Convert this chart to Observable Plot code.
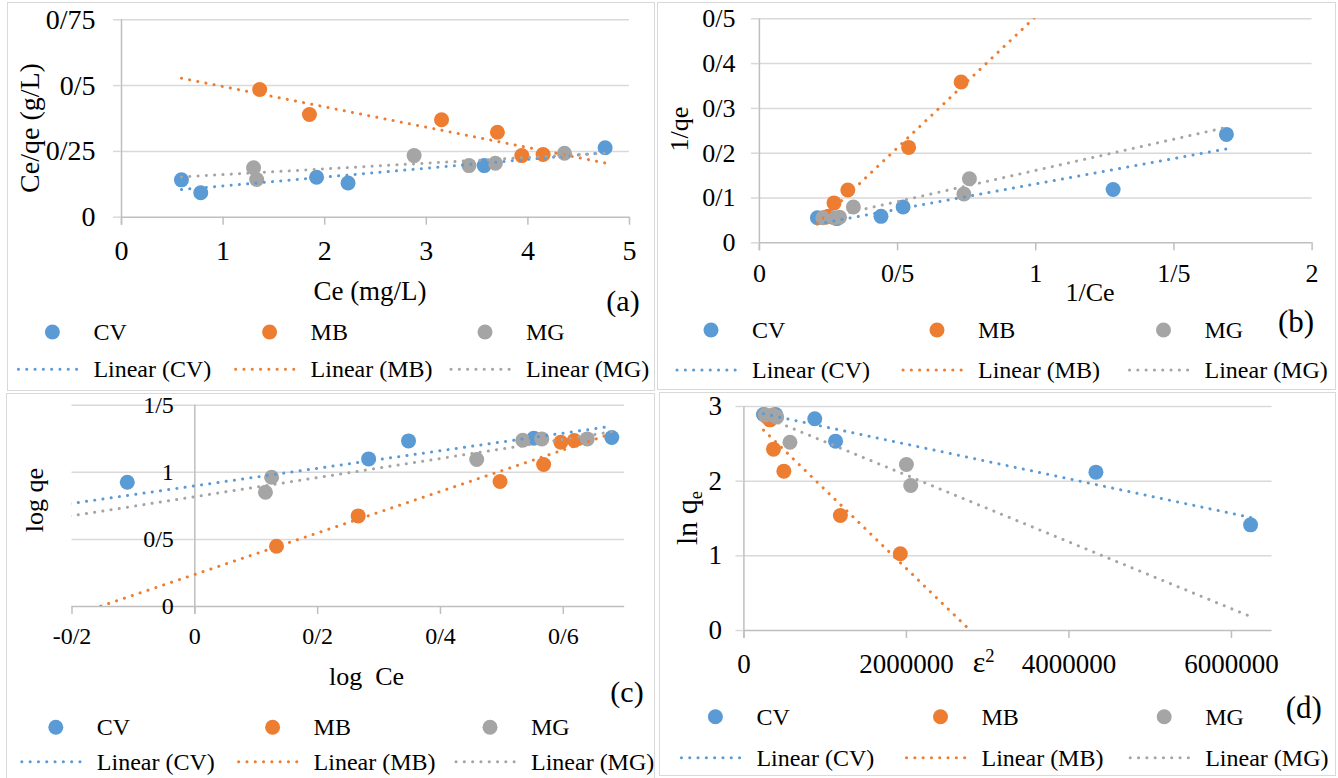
<!DOCTYPE html>
<html><head><meta charset="utf-8">
<script src="https://cdn.jsdelivr.net/npm/d3@7"></script>
<script src="https://cdn.jsdelivr.net/npm/@observablehq/plot@0.6"></script>
<style>
html,body{margin:0;padding:0;background:#fff;}
#root{position:relative;width:1338px;height:778px;overflow:hidden;font-family:'Liberation Serif','Times New Roman',serif;color:#000;}
.panel{position:absolute;box-sizing:border-box;border:1.5px solid #d9d9d9;pointer-events:none;}
.abs{position:absolute;white-space:pre;line-height:1;}
.abs sup{font-size:0.62em;vertical-align:0.55em;line-height:0;}
.abs sub{font-size:0.62em;vertical-align:-0.25em;line-height:0;}
svg{overflow:visible;}
</style></head><body><div id="root"></div>
<script>
// ---------- series ----------
const seriesNames = ["CV", "MB", "MG"];
const seriesColors = ["#5B9BD5", "#ED7D31", "#A5A5A5"];

// (a) Ce vs Ce/qe
const a_CV_x = [0.59, 0.78, 1.92, 2.23, 3.57, 4.76];
const a_CV_y = [0.142, 0.093, 0.152, 0.130, 0.196, 0.264];
const a_MB_x = [1.36, 1.85, 3.15, 3.70, 3.94, 4.15];
const a_MB_y = [0.485, 0.390, 0.370, 0.323, 0.234, 0.238];
const a_MG_x = [1.30, 1.33, 2.88, 3.42, 3.68, 4.36];
const a_MG_y = [0.188, 0.143, 0.234, 0.196, 0.205, 0.243];

// (b) 1/Ce vs 1/qe
const b_CV_x = [1.69, 1.28, 0.52, 0.44, 0.28, 0.21];
const b_CV_y = [0.242, 0.119, 0.080, 0.059, 0.054, 0.056];
const b_MB_x = [0.73, 0.54, 0.32, 0.27, 0.25, 0.24];
const b_MB_y = [0.359, 0.213, 0.118, 0.089, 0.059, 0.057];
const b_MG_x = [0.76, 0.74, 0.34, 0.29, 0.27, 0.23];
const b_MG_y = [0.143, 0.109, 0.080, 0.057, 0.056, 0.056];

// (c) log Ce vs log qe
const c_CV_x = [-0.23, -0.11, 0.283, 0.348, 0.552, 0.679];
const c_CV_y = [0.618, 0.926, 1.100, 1.234, 1.254, 1.259];
const c_MB_x = [0.133, 0.266, 0.497, 0.568, 0.596, 0.618];
const c_MB_y = [0.449, 0.675, 0.931, 1.058, 1.224, 1.237];
const c_MG_x = [0.115, 0.125, 0.459, 0.534, 0.565, 0.639];
const c_MG_y = [0.851, 0.963, 1.095, 1.239, 1.249, 1.249];

// (d) epsilon^2 vs ln qe
const d_CV_x = [241000, 390000, 872000, 1128000, 4332000, 6235000];
const d_CV_y = [2.893, 2.893, 2.835, 2.536, 2.121, 1.415];
const d_MB_x = [286000, 321000, 364000, 492000, 1187000, 1925000];
const d_MB_y = [2.859, 2.821, 2.429, 2.134, 1.540, 1.027];
const d_MG_x = [262000, 355000, 404000, 567000, 2000000, 2053000];
const d_MG_y = [2.888, 2.887, 2.859, 2.522, 2.223, 1.942];

// ---------- tick values ----------
const a_xTicks = [0, 1, 2, 3, 4, 5];
const a_yTicks = [0, 0.25, 0.5, 0.75];
const b_xTicks = [0, 0.5, 1, 1.5, 2];
const b_yTicks = [0, 0.1, 0.2, 0.3, 0.4, 0.5];
const c_xTicks = [-0.2, 0, 0.2, 0.4, 0.6];
const c_yTicks = [0, 0.5, 1, 1.5];
const d_xTicks = [0, 2000000, 4000000, 6000000];
const d_yTicks = [0, 1, 2, 3];

const FONT = "'Liberation Serif','Times New Roman',serif";
const fmt = d => String(d).replace(".", "/");
const root = document.getElementById("root");

function rowsOf(xs, ys, name) { return xs.map((x, i) => ({x, y: ys[i], s: name})); }
function fit(rows) {
  const mx = d3.mean(rows, d => d.x), my = d3.mean(rows, d => d.y);
  const sxy = d3.sum(rows, d => (d.x - mx) * (d.y - my));
  const sxx = d3.sum(rows, d => (d.x - mx) ** 2);
  const b = sxy / sxx, a = my - b * mx;
  return x => a + b * x;
}

function addText(html, x, y, size, opts = {}) {
  const el = document.createElement("div");
  el.className = "abs";
  el.innerHTML = html;
  el.style.fontSize = size + "px";
  el.style.left = x + "px";
  el.style.top = y + "px";
  if (opts.rotate) el.style.transform = "translate(-50%,-50%) rotate(-90deg)";
  else if (opts.left) el.style.transform = "translate(0,-50%)";
  else el.style.transform = "translate(-50%,-50%)";
  root.appendChild(el);
}

const overlay = d3.select(root).append("svg")
  .attr("width", 1338).attr("height", 778)
  .style("position", "absolute").style("left", "0px").style("top", "0px")
  .style("pointer-events", "none").style("z-index", 2);

function legend(textXs, y1, y2) {
  seriesNames.forEach((name, i) => {
    const tx = textXs[i];
    overlay.append("circle").attr("cx", tx - 41).attr("cy", y1).attr("r", 7.5).attr("fill", seriesColors[i]);
    overlay.append("line").attr("x1", tx - 75).attr("x2", tx - 11).attr("y1", y2).attr("y2", y2)
      .attr("stroke", seriesColors[i]).attr("stroke-width", 3)
      .attr("stroke-dasharray", "0.1 8.2").attr("stroke-linecap", "round");
    addText(name, tx, y1, 24, {left: true});
    addText(`Linear (${name})`, tx, y2, 24, {left: true});
  });
}

function panel(cfg) {
  const all = [];
  cfg.series.forEach(([xs, ys], i) => all.push(...rowsOf(xs, ys, seriesNames[i])));
  const ext = d3.extent(all, d => d.x);
  const trends = [];
  seriesNames.forEach(name => {
    const f = fit(all.filter(d => d.s === name));
    trends.push({x: ext[0], y: f(ext[0]), s: name}, {x: ext[1], y: f(ext[1]), s: name});
  });
  const {box, frame} = cfg;
  const marks = [
    Plot.ruleY(cfg.yTicks.filter(t => t !== 0), {stroke: "#d9d9d9", strokeWidth: 1.5}),
    Plot.ruleY([0], {stroke: "#bfbfbf", strokeWidth: 1.5}),
    Plot.ruleX([0], {stroke: "#bfbfbf", strokeWidth: 1.5, insetBottom: -8}),
    Plot.axisX({ticks: cfg.xTicks, tickFormat: fmt, tickSize: 8, tickPadding: cfg.padX,
      fontSize: cfg.fs, stroke: "#bfbfbf", strokeWidth: 1.5, fill: "#000", label: null})
  ];
  if (cfg.yAtZero) {
    marks.push(Plot.text(cfg.yTicks, {x: 0, y: d => d, text: fmt, textAnchor: "end",
      dx: cfg.yDx, fontSize: cfg.fs, fill: "#000"}));
  } else {
    marks.push(Plot.axisY({ticks: cfg.yTicks, tickFormat: fmt, tickSize: 8, tickPadding: cfg.padY,
      fontSize: cfg.fs, stroke: "#d9d9d9", strokeWidth: 1.5, fill: "#000", label: null}));
  }
  marks.push(
    Plot.dot(all, {x: "x", y: "y", fill: "s", r: 7.5, clip: true}),
    Plot.line(trends, {x: "x", y: "y", stroke: "s", z: "s", strokeWidth: 3,
      strokeDasharray: "0.1 8.2", strokeLinecap: "round", clip: true})
  );
  const svg = Plot.plot({
    width: box.w, height: box.h,
    marginLeft: frame.L - box.l, marginRight: box.l + box.w - frame.R,
    marginTop: frame.T - box.t, marginBottom: box.t + box.h - frame.B,
    x: {domain: cfg.xDomain},
    y: cfg.yAtZero ? {domain: cfg.yDomain, axis: null} : {domain: cfg.yDomain},
    color: {domain: seriesNames, range: seriesColors},
    style: {fontFamily: FONT, fontSize: cfg.fs + "px", background: "transparent", color: "#000"},
    marks
  });
  svg.style.position = "absolute";
  svg.style.left = box.l + "px";
  svg.style.top = box.t + "px";
  root.appendChild(svg);
  const border = document.createElement("div");
  border.className = "panel";
  border.style.left = box.l + "px"; border.style.top = box.t + "px";
  border.style.width = box.w + "px"; border.style.height = box.h + "px";
  root.appendChild(border);
}

panel({box: {l: 7, t: 2, w: 648, h: 389}, frame: {L: 121, R: 629, T: 19.3, B: 216.7},
  xDomain: [0, 5], yDomain: [0, 0.75], xTicks: a_xTicks, yTicks: a_yTicks, fs: 28, padX: 15, padY: 18,
  series: [[a_CV_x, a_CV_y], [a_MB_x, a_MB_y], [a_MG_x, a_MG_y]]});
panel({box: {l: 657, t: 2, w: 679, h: 388}, frame: {L: 758.9, R: 1311.6, T: 18.3, B: 242.3},
  xDomain: [0, 2], yDomain: [0, 0.5], xTicks: b_xTicks, yTicks: b_yTicks, fs: 26, padX: 13, padY: 16,
  series: [[b_CV_x, b_CV_y], [b_MB_x, b_MB_y], [b_MG_x, b_MG_y]]});
panel({box: {l: 6, t: 393, w: 649, h: 386}, frame: {L: 71.5, R: 624.2, T: 404.7, B: 606},
  xDomain: [-0.2, 0.7], yDomain: [0, 1.5], xTicks: c_xTicks, yTicks: c_yTicks, fs: 24, padX: 12,
  yAtZero: true, yDx: -21,
  series: [[c_CV_x, c_CV_y], [c_MB_x, c_MB_y], [c_MG_x, c_MG_y]]});
panel({box: {l: 659, t: 392, w: 677, h: 384}, frame: {L: 743.4, R: 1271.6, T: 406, B: 630},
  xDomain: [0, 6500000], yDomain: [0, 3], xTicks: d_xTicks, yTicks: d_yTicks, fs: 27, padX: 15, padY: 14,
  series: [[d_CV_x, d_CV_y], [d_MB_x, d_MB_y], [d_MG_x, d_MG_y]]});

// axis titles & panel letters
addText("Ce (mg/L)", 370, 291, 27);
addText("Ce/qe (g/L)", 29.5, 128, 28, {rotate: true});
addText("(a)", 623, 300.5, 30);
addText("1/Ce", 1090, 293, 26);
addText("1/qe", 680, 129, 26, {rotate: true});
addText("(b)", 1296, 320.7, 31);
addText("log  Ce", 366.6, 676.7, 26);
addText("log qe", 34.5, 499.5, 26, {rotate: true});
addText("(c)", 627, 692.3, 30);
addText("ε<sup>2</sup>", 983.6, 661.7, 30);
addText("ln q<sub>e</sub>", 687, 518, 30, {rotate: true});
addText("(d)", 1303.8, 707.3, 31);

// legends
legend([93.4, 310.6, 526], 332, 369.3);
legend([752, 978, 1204.5], 330, 370);
legend([96.8, 313.6, 531], 727.3, 761.7);
legend([756.4, 981.5, 1205.2], 716.7, 757.7);
</script></body></html>
